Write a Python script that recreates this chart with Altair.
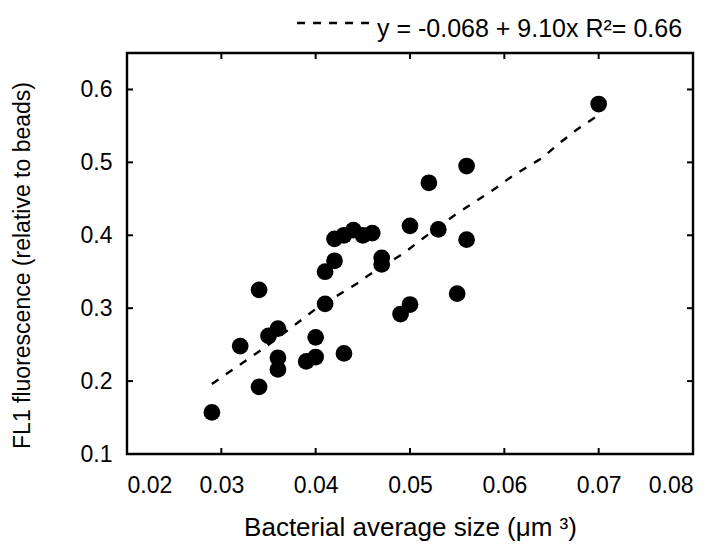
import altair as alt
import pandas as pd

bact_size = [0.029, 0.032, 0.034, 0.034, 0.035, 0.036, 0.036, 0.036, 0.039, 0.040,
             0.040, 0.041, 0.041, 0.042, 0.042, 0.043, 0.043, 0.044, 0.045, 0.046,
             0.047, 0.047, 0.049, 0.050, 0.050, 0.052, 0.053, 0.055, 0.056, 0.056,
             0.070]
fl1 = [0.157, 0.248, 0.192, 0.325, 0.262, 0.272, 0.232, 0.216, 0.227, 0.233,
       0.260, 0.306, 0.350, 0.365, 0.395, 0.400, 0.238, 0.407, 0.400, 0.403,
       0.369, 0.360, 0.292, 0.305, 0.413, 0.472, 0.408, 0.320, 0.394, 0.495,
       0.580]

# Dashed fit line
fit_x = [0.029, 0.0346, 0.0386, 0.0401, 0.0443, 0.0457, 0.0493, 0.0514, 0.055,
         0.0588, 0.0605, 0.0622, 0.064, 0.0659, 0.0677, 0.070]
fit_y = [0.196, 0.246, 0.285, 0.300, 0.333, 0.346, 0.375, 0.396, 0.430,
         0.462, 0.478, 0.492, 0.506, 0.527, 0.545, 0.565]

x_ticks = [0.02, 0.03, 0.04, 0.05, 0.06, 0.07, 0.08]
y_ticks = [0.1, 0.2, 0.3, 0.4, 0.5, 0.6]
legend_text = ["y = -0.068 + 9.10x R\u00b2= 0.66"]

W, H = 566, 401
FONT = "Liberation Sans"

pts = pd.DataFrame({"size": bact_size, "fl1": fl1})
fit = pd.DataFrame({"size": fit_x, "fl1": fit_y})
xt = pd.DataFrame({"v": x_ticks})
yt = pd.DataFrame({"v": y_ticks})

xs = alt.Scale(domain=[0.02, 0.08], nice=False, zero=False)
ys = alt.Scale(domain=[0.1, 0.65], nice=False, zero=False)

x_axis = alt.Axis(values=x_ticks, format=".2f", title="Bacterial average size (\u03bcm \u00b3)",
                  labelPadding=20, titleBaseline="alphabetic", titleY=81,
                  domain=False, ticks=False, grid=False,
                  labelFont=FONT, labelFontSize=23, labelColor="black",
                  titleFont=FONT, titleFontSize=26, titleColor="black", titleFontWeight="normal")
y_axis = alt.Axis(values=y_ticks, format=".1f", title="FL1 fluorescence (relative to beads)",
                  labelPadding=15, titleBaseline="middle", titleX=-105, titleY=212,
                  domain=False, ticks=False, grid=False,
                  labelFont=FONT, labelFontSize=23, labelColor="black",
                  titleFont=FONT, titleFontSize=23, titleColor="black", titleFontWeight="normal")

points = alt.Chart(pts).mark_circle(size=280, color="black", opacity=1).encode(
    x=alt.X("size:Q", scale=xs, axis=x_axis),
    y=alt.Y("fl1:Q", scale=ys, axis=y_axis),
)

line = alt.Chart(fit).mark_line(color="black", strokeWidth=2.4, strokeDash=[8, 9]).encode(
    x=alt.X("size:Q", scale=xs),
    y=alt.Y("fl1:Q", scale=ys),
)

tick_len = 6
bottom_ticks = alt.Chart(xt).mark_rule(color="black", strokeWidth=2).encode(
    x=alt.X("v:Q", scale=xs), y=alt.value(H - tick_len), y2=alt.value(H))
top_ticks = alt.Chart(xt).mark_rule(color="black", strokeWidth=2).encode(
    x=alt.X("v:Q", scale=xs), y=alt.value(0), y2=alt.value(tick_len))
left_ticks = alt.Chart(yt).mark_rule(color="black", strokeWidth=2).encode(
    y=alt.Y("v:Q", scale=ys), x=alt.value(0), x2=alt.value(tick_len))
right_ticks = alt.Chart(yt).mark_rule(color="black", strokeWidth=2).encode(
    y=alt.Y("v:Q", scale=ys), x=alt.value(W - tick_len), x2=alt.value(W))

leg = pd.DataFrame({"t": legend_text})
leg_line = alt.Chart(leg).mark_rule(color="black", strokeWidth=2.4, strokeDash=[8, 8]).encode(
    x=alt.value(170), x2=alt.value(248), y=alt.value(-30))
leg_text = alt.Chart(leg).mark_text(align="left", baseline="alphabetic", font=FONT,
                                    fontSize=25, color="black").encode(
    text="t:N", x=alt.value(250), y=alt.value(-16))

chart = alt.layer(line, points, bottom_ticks, top_ticks, left_ticks, right_ticks,
                  leg_line, leg_text).properties(
    width=W, height=H,
    background="white",
    autosize=alt.AutoSizeParams(type="none"),
    padding={"left": 127, "top": 53, "right": 25, "bottom": 90},
).configure_view(
    stroke="black", strokeWidth=2.4
)

chart.save("out.html", embed_options={"renderer": "svg", "actions": False})
